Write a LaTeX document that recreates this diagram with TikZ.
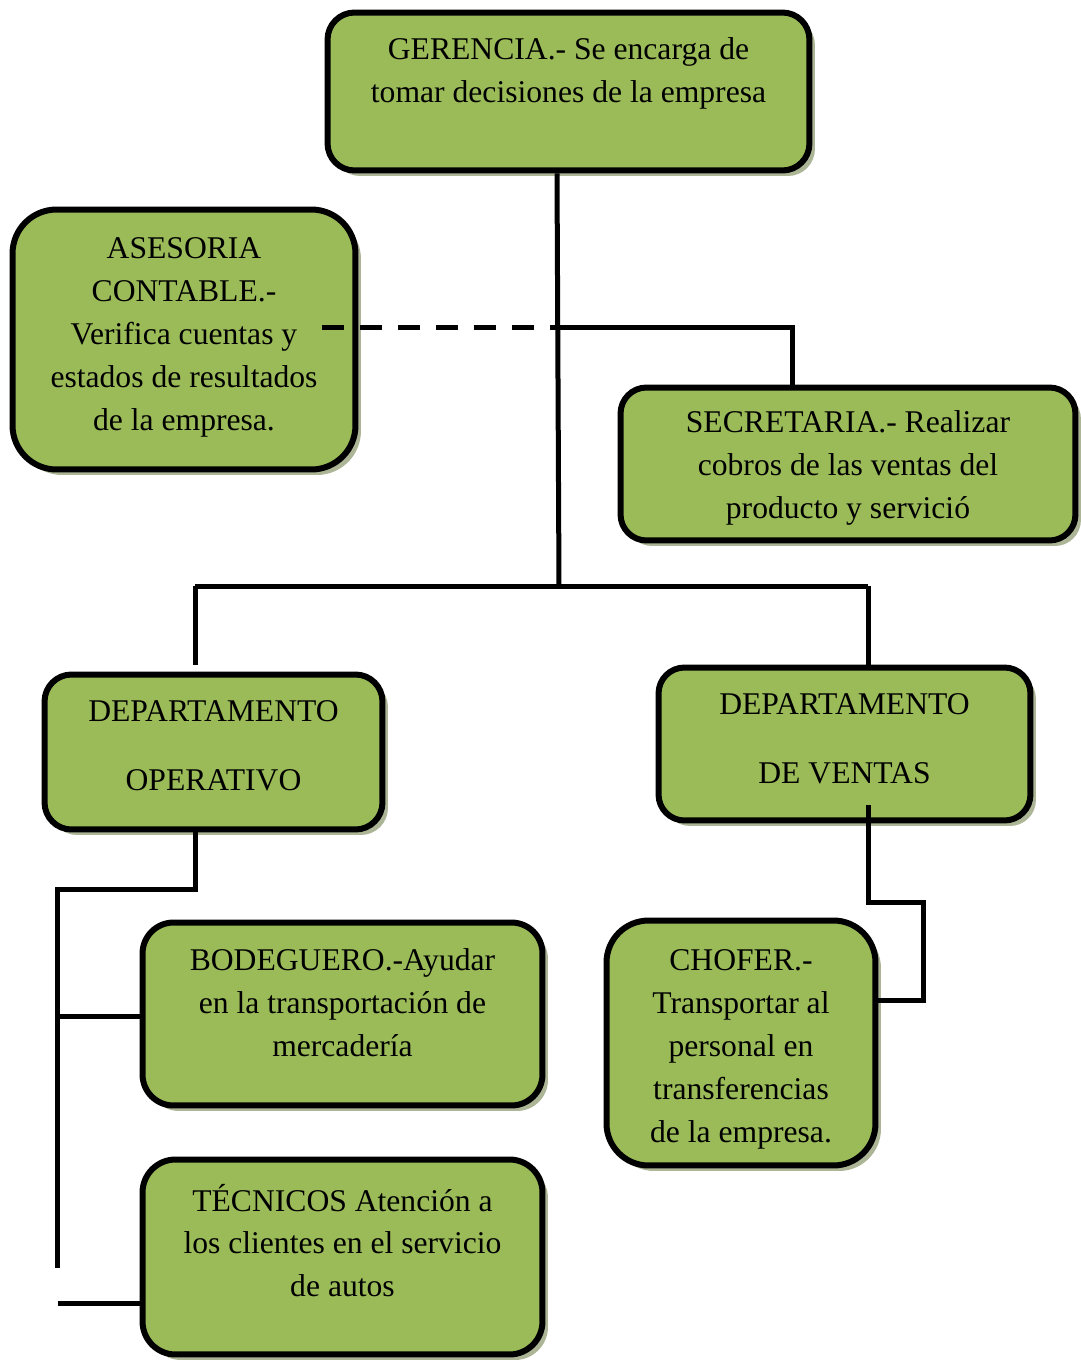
\documentclass[tikz,border=0pt]{standalone}
\usepackage{fontspec}
\setmainfont{Liberation Serif}
\usepackage{pgf,tikz}
\usetikzlibrary{shadows}
\definecolor{cajaverde}{RGB}{155,187,89}
\definecolor{sombra}{RGB}{172,182,150}

\begin{document}
\begin{tikzpicture}[line cap=butt,line join=miter,x=0.02cm,y=-0.02cm,
  caja/.style={draw=black,line width=0.12cm,fill=cajaverde,rectangle,inner sep=0pt,
    drop shadow={shadow xshift=0.11cm,shadow yshift=-0.11cm,fill=sombra,opacity=1}},
  texto/.style={align=center,inner sep=0pt,font=\fontsize{18}{24.4}\selectfont},
  textoancho/.style={align=center,inner sep=0pt,font=\fontsize{18}{39}\selectfont},
  linea/.style={line width=0.1cm,black},
  discontinua/.style={line width=0.1cm,black,dash pattern=on 0.44cm off 0.32cm}]
\useasboundingbox (0,0) rectangle (1080,1360);
\node[caja,minimum width=9.64cm,minimum height=3.16cm,rounded corners=0.54cm] (ger) at (568.5,91.5) {};
\node[caja,minimum width=6.86cm,minimum height=5.2cm,rounded corners=0.88cm] (ase) at (184,339.5) {};
\node[caja,minimum width=9.1cm,minimum height=3.06cm,rounded corners=0.52cm] (sec) at (848,464) {};
\node[caja,minimum width=6.76cm,minimum height=3.1cm,rounded corners=0.54cm] (dop) at (213.5,752) {};
\node[caja,minimum width=7.44cm,minimum height=3.06cm,rounded corners=0.52cm] (dve) at (844.5,744) {};
\node[caja,minimum width=8cm,minimum height=3.66cm,rounded corners=0.62cm] (bod) at (342.5,1014) {};
\node[caja,minimum width=8cm,minimum height=3.9cm,rounded corners=0.66cm] (tec) at (342.5,1257) {};
\node[caja,minimum width=5.38cm,minimum height=4.9cm,rounded corners=0.84cm] (cho) at (741,1043) {};
\node[texto] (gertxt) at ([yshift=0.36cm]ger.center) {GERENCIA.- Se encarga de\\tomar decisiones de la empresa};
\node[texto] (asetxt) at ([yshift=0.04cm]ase.center) {ASESORIA\\CONTABLE.-\\Verifica cuentas y\\estados de resultados\\de la empresa.};
\node[texto] (sectxt) at ([yshift=-0.08cm]sec.center) {SECRETARIA.- Realizar\\cobros de las ventas del\\producto y servició};
\node[textoancho] (doptxt) at ([yshift=0.13cm]dop.center) {DEPARTAMENTO\\OPERATIVO};
\node[textoancho] (dvetxt) at ([yshift=0.11cm]dve.center) {DEPARTAMENTO\\DE VENTAS};
\node[texto] (bodtxt) at ([yshift=0.22cm]bod.center) {BODEGUERO.-Ayudar\\en la transportación de\\mercadería};
\node[texto] (tectxt) at ([yshift=0.33cm]tec.center) {TÉCNICOS Atención a\\los clientes en el servicio\\de autos};
\node[texto] (chotxt) at ([yshift=-0.13cm]cho.center) {CHOFER.-\\Transportar al\\personal en\\transferencias\\de la empresa.};
\coordinate (busC) at (559,586);
\coordinate (busL) at (195,586);
\coordinate (busR) at (868,586);
\coordinate (dopT) at (195,665);
\coordinate (aseJ) at (322,327);
\coordinate (secJ) at (557,327);
\coordinate (secK) at (792,327);
\coordinate (dopA) at (195,889);
\coordinate (dopB) at (57,889);
\coordinate (dopC) at (57,1268);
\coordinate (bodJ) at (57,1016);
\coordinate (tecJ) at (58,1303);
\coordinate (dveA) at (868,805);
\coordinate (dveB) at (868,902);
\coordinate (dveC) at (923,902);
\coordinate (dveD) at (923,1000);
\draw[linea] ([xshift=-0.23cm]ger.south) -- (busC);
\draw[linea] (busL) -- (busR);
\draw[linea] (busL) -- (dopT);
\draw[linea] (busR) -- (busR |- dve.north);
\draw[discontinua] (aseJ) -- (secJ);
\draw[linea] (secJ) -- (secK) -- (secK |- sec.north);
\draw[linea] (dopA |- dop.south) -- (dopA) -- (dopB) -- (dopC);
\draw[linea] (bodJ) -- (bodJ -| bod.west);
\draw[linea] (tecJ) -- (tecJ -| tec.west);
\draw[linea] (dveA) -- (dveB) -- (dveC) -- (dveD) -- (dveD -| cho.east);
\end{tikzpicture}
\end{document}
